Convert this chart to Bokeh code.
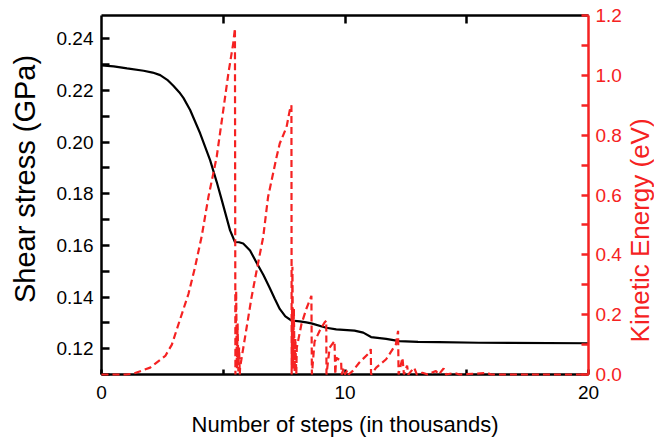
import math
from bokeh.plotting import figure
from bokeh.models import (Range1d, LinearAxis, FixedTicker, PrintfTickFormatter, Label)
from bokeh.embed import file_html
from bokeh.resources import INLINE

# ---- data (x in thousands of steps) ----
stress_x = [0, 0.5, 1.05, 1.73, 2.1, 2.41, 2.7, 2.96, 3.2, 3.37, 3.64, 4.05, 4.46, 4.73, 4.94,
            5.28, 5.48, 5.65, 5.82, 6.1, 6.37, 6.65, 6.91, 7.12, 7.32, 7.55, 7.8,
            8.14, 8.41, 8.62, 9.23, 9.64, 10.39, 10.75, 11.07, 11.69, 12.23, 13.0,
            13.86, 15.5, 20]
stress_y = [0.2297, 0.2293, 0.2285, 0.2276, 0.2269, 0.2259, 0.2241, 0.2217, 0.2192, 0.2170, 0.2124,
            0.2034, 0.1930, 0.1846, 0.1775, 0.1658, 0.1613, 0.1612, 0.1607, 0.1580, 0.1533,
            0.1485, 0.1435, 0.1392, 0.1354, 0.1325, 0.1309, 0.1306, 0.1302, 0.1298,
            0.1281, 0.1275, 0.1270, 0.1262, 0.1245, 0.1238, 0.1229, 0.1226, 0.1225,
            0.1223, 0.1221]

ke_x = [0.0, 0.5, 1.0, 1.32, 2.0, 2.62, 2.89, 3.23, 3.57, 3.84, 4.12, 4.39, 4.73,
        5.0, 5.21, 5.41, 5.48, 5.50, 5.53, 5.56, 5.59, 5.62, 5.65, 5.68, 5.69,
        5.96, 6.16, 6.37, 6.64, 6.84, 7.19, 7.32, 7.60, 7.73, 7.80, 7.81, 7.84,
        7.87, 7.90, 7.93, 7.96, 8.00, 8.02, 8.21, 8.41, 8.62, 8.64, 8.75, 8.96,
        9.16, 9.23, 9.24, 9.37, 9.57, 9.60, 9.64, 9.84, 9.86, 9.95, 10.0, 10.1,
        10.15, 10.32, 10.59, 11.0, 11.06, 11.07, 11.28, 11.69, 12.09, 12.18, 12.2,
        12.36, 12.42, 12.55, 12.6, 12.84, 12.95, 13.18, 13.4, 13.73, 13.85, 14.05,
        14.15, 14.5, 14.7, 15.84, 16.0, 20.0]
ke_y = [0.0, 0.0, 0.0, 0.003, 0.023, 0.062, 0.10, 0.185, 0.269, 0.358, 0.464, 0.593,
        0.727, 0.883, 1.006, 1.107, 1.157, 0.0, 0.28, 0.02, 0.17, 0.01, 0.09, 0.0,
        0.023, 0.157, 0.257, 0.347, 0.459, 0.593, 0.727, 0.772, 0.827, 0.883, 0.90,
        0.0, 0.36, 0.02, 0.22, 0.01, 0.12, 0.0, 0.09, 0.168, 0.219, 0.263, 0.0,
        0.11, 0.146, 0.174, 0.18, 0.0, 0.09, 0.112, 0.0, 0.056, 0.045, 0.0, 0.02,
        0.0, 0.015, 0.0, 0.012, 0.04, 0.073, 0.085, 0.0, 0.023, 0.051, 0.101, 0.146,
        0.0, 0.056, 0.0, 0.03, 0.0, 0.023, 0.0, 0.006, 0.0, 0.012, 0.0, 0.02, 0.0,
        0.005, 0.0, 0.005, 0.0, 0.0]

x_major = [0, 10, 20]
x_minor = [5, 15]
left_major = [0.12, 0.14, 0.16, 0.18, 0.20, 0.22, 0.24]
left_minor = [0.11, 0.13, 0.15, 0.17, 0.19, 0.21, 0.23]
right_major = [0.0, 0.2, 0.4, 0.6, 0.8, 1.0, 1.2]
right_minor = [0.1, 0.3, 0.5, 0.7, 0.9, 1.1]

RED = "#f52222"
FONT = "Liberation Sans"

p = figure(width=654, height=438, output_backend="svg", toolbar_location=None,
           x_range=Range1d(0, 20), y_range=Range1d(0.11, 0.249),
           min_border_left=101, min_border_right=64, min_border_top=15,
           min_border_bottom=64, x_axis_type=None, y_axis_type=None)
p.outline_line_color = None
p.xgrid.visible = False
p.ygrid.visible = False
p.background_fill_color = "white"
p.border_fill_color = "white"
p.extra_y_ranges = {"ke": Range1d(0, 1.2)}

xb = LinearAxis(ticker=FixedTicker(ticks=x_major, minor_ticks=x_minor),
                formatter=PrintfTickFormatter(format="%d"))
xt = LinearAxis(ticker=FixedTicker(ticks=x_minor + [10], minor_ticks=[]),
                major_label_text_alpha=0, major_label_text_font_size="1px",
                major_label_standoff=0)
yl = LinearAxis(ticker=FixedTicker(ticks=left_major, minor_ticks=left_minor),
                formatter=PrintfTickFormatter(format="%.2f"))
yr = LinearAxis(y_range_name="ke",
                ticker=FixedTicker(ticks=right_major, minor_ticks=right_minor),
                formatter=PrintfTickFormatter(format="%.1f"))

for ax in (xb, xt, yl, yr):
    ax.axis_line_width = 2.5
    ax.major_tick_line_width = 2.5
    ax.minor_tick_line_width = 2.5
    ax.major_tick_out = 0
    ax.minor_tick_out = 0
    ax.major_label_text_font = FONT
    ax.major_label_text_color = "black"
    ax.axis_line_color = "black"
    ax.major_tick_line_color = "black"
    ax.minor_tick_line_color = "black"

xb.major_tick_in = 5
xb.minor_tick_in = 5
xb.major_label_text_font_size = "19px"
xb.major_label_standoff = 11
xt.major_tick_in = 8
xt.minor_tick_in = 0
yl.major_tick_in = 8
yl.minor_tick_in = 8
yl.major_label_text_font_size = "19px"
yl.major_label_standoff = 8
yr.major_tick_in = 7
yr.minor_tick_in = 7
yr.major_label_text_font_size = "19px"
yr.major_label_standoff = 7
yr.axis_line_color = RED
yr.major_tick_line_color = RED
yr.minor_tick_line_color = RED
yr.major_label_text_color = RED

p.add_layout(xb, "below")
p.add_layout(xt, "above")
p.add_layout(yl, "left")
p.add_layout(yr, "right")

p.line(stress_x, stress_y, line_color="black", line_width=2.2)
p.line(ke_x, ke_y, y_range_name="ke", line_color=RED, line_width=2.2,
       line_dash="7 4", level="overlay")

# axis titles placed in the side panels so they are not clipped
p.add_layout(Label(x=10.0, y=0.0905, text="Number of steps (in thousands)",
                   text_font=FONT, text_font_size="22px", text_align="center",
                   text_baseline="middle", text_color="black"), "below")
p.add_layout(Label(x=-3.15, y=0.1857, text="Shear stress (GPa)", angle=math.pi / 2,
                   text_font=FONT, text_font_size="29px", text_align="center",
                   text_baseline="middle", text_color="black"), "left")
p.add_layout(Label(x=22.13, y=0.1658, text="Kinetic Energy (eV)", angle=math.pi / 2,
                   text_font=FONT, text_font_size="26px", text_align="center",
                   text_baseline="middle", text_color=RED), "right")

open("out.html", "w").write(file_html(p, INLINE))
